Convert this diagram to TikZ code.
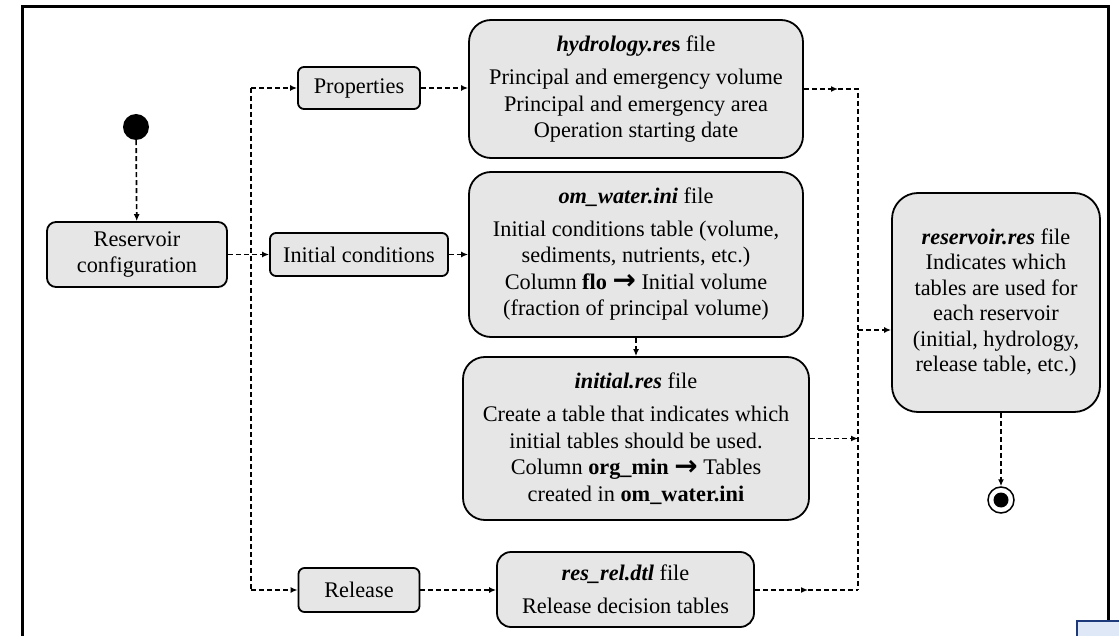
\documentclass[tikz,border=0pt]{standalone}
\usepackage{fontspec}
\usepackage{graphicx}
\setmainfont{Liberation Serif}
\newfontfamily\arrowfont{DejaVu Sans}
\newcommand{\rarr}{\raisebox{-0.5pt}{\scalebox{1.25}{\arrowfont\bfseries →}}}
\usetikzlibrary{arrows.meta}
\definecolor{boxfill}{HTML}{E6E6E6}
\definecolor{navyline}{HTML}{1F3A7A}
\definecolor{lightblue}{HTML}{DEE8F6}
\begin{document}
\begin{tikzpicture}[x=1pt,y=-1pt,
  box/.style={draw=black, line width=1.8pt, fill=boxfill, rounded corners=#1,
    align=center, inner sep=0pt,
    font=\fontsize{22.3}{26.5}\selectfont},
  box/.default=8pt,
  conn/.style={line width=1.7pt, dash pattern=on 5pt off 3pt},
  arr/.style={conn, -{Latex[length=7pt,width=6pt]}}]
\useasboundingbox (0,0) rectangle (1119,636);
% frame
\draw[line width=3pt] (22,636) -- (22,7) -- (1108,7) -- (1108,621);
\fill[lightblue] (1077,621) rectangle (1119,636);
\draw[navyline, line width=1.5pt] (1119,621) -- (1077,621) -- (1077,636);

% nodes
\node[circle, fill=black, minimum size=26pt, inner sep=0pt] (start) at (136,127) {};
\node[box=9pt, minimum width=180pt, minimum height=65pt] (rc) at (137,254.5) {Reservoir\\configuration};
\node[box=6pt, minimum width=122pt, minimum height=42pt] (prop) at (359,88) {Properties};
\node[box=6pt, minimum width=178pt, minimum height=43pt] (ic) at (359,254.5) {Initial conditions};
\node[box=6pt, minimum width=121pt, minimum height=44pt] (rel) at (359,590) {Release};
\node[box=22pt, minimum width=334pt, minimum height=138pt] (hyd) at (636,89)
  {\textbf{\textit{hydrology.re}s} file\\[7pt]
   Principal and emergency volume\\
   Principal and emergency area\\
   Operation starting date};
\node[box=22pt, minimum width=334pt, minimum height=165pt] (om) at (636,254.5)
  {\textbf{\textit{om\_water.ini}} file\\[6pt]
   Initial conditions table (volume,\\
   sediments, nutrients, etc.)\\
   Column \textbf{flo} \rarr{} Initial volume\\
   (fraction of principal volume)};
\node[box=22pt, minimum width=346pt, minimum height=163pt] (ini) at (636,438.5)
  {\textbf{\textit{initial.res}} file\\[7pt]
   Create a table that indicates which\\
   initial tables should be used.\\
   Column \textbf{org\_min} \rarr{} Tables\\
   created in \textbf{om\_water.ini}};
\node[box=14pt, minimum width=257pt, minimum height=75pt] (rr) at (625.5,589.5)
  {\textbf{\textit{res\_rel.dtl}} file\\[6pt]
   Release decision tables};
\node[box=26pt, minimum width=208pt, minimum height=219pt,
  font=\fontsize{22.3}{25.5}\selectfont] (res) at (996,302.5)
  {\textbf{\textit{reservoir.res}} file\\
   Indicates which\\
   tables are used for\\
   each reservoir\\
   (initial, hydrology,\\
   release table, etc.)};
\node[circle, draw=black, line width=1.5pt, fill=white, minimum size=26pt, inner sep=0pt] (end) at (1001,500) {};
\fill (end.center) circle (7.5);

% branch coordinates
\coordinate (btop) at (251,88);
\coordinate (bbot) at (251,590);
\coordinate (rtop) at (858,89);
\coordinate (rbot) at (858,590);
\coordinate (rmid) at (858,330);
\coordinate (rini) at (858,438.5);
\coordinate (mh) at (838,89);
\coordinate (mr) at (808,590);

% connectors
\draw[arr] (start) -- (rc);
\draw[arr] (rc.east) -- (ic.west);
\draw[conn] (btop) -- (bbot);
\draw[arr] (btop) -- (prop.west);
\draw[arr] (bbot) -- (rel.west);
\draw[arr] (prop.east) -- (hyd.west |- prop.east);
\draw[arr] (ic.east) -- (om.west |- ic.east);
\draw[arr] (om.south) -- (ini.north);
\draw[arr] (rel.east) -- (rr.west |- rel.east);
\draw[arr] (hyd.east) -- (mh);
\draw[conn] (mh) -- (rtop) -- (rbot);
\draw[arr] (ini.east) -- (rini);
\draw[arr] (rr.east |- rbot) -- (mr);
\draw[conn] (mr) -- (rbot);
\draw[arr] (rmid) -- (res.west |- rmid);
\draw[arr] (res.south -| end) -- (end.north);
\end{tikzpicture}
\end{document}
